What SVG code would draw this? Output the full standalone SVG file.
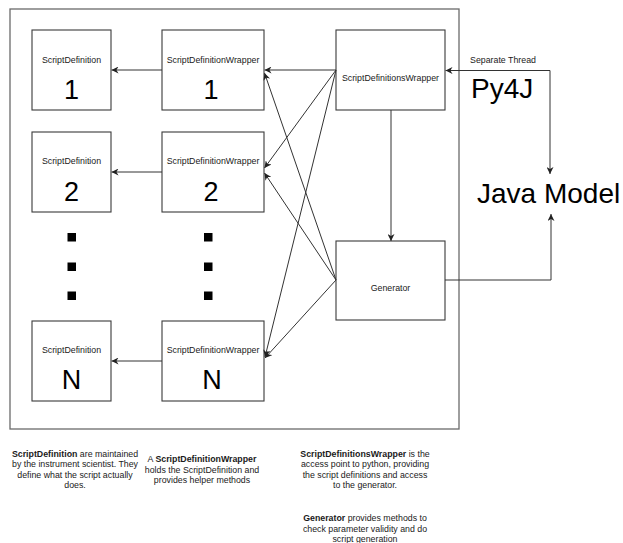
<svg xmlns="http://www.w3.org/2000/svg" width="623" height="543" viewBox="0 0 623 543">
  <style>
    .frame { fill: none; stroke: #6a6a6a; stroke-width: 1.3; }
    .box { fill: #ffffff; stroke: #3a3a3a; stroke-width: 1.1; }
    .lbl { font-family: "Liberation Sans", Arial, sans-serif; font-size: 8.8px; fill: #1a1a1a; text-anchor: middle; }
    .num { font-family: "Liberation Sans", Arial, sans-serif; font-size: 27px; fill: #000; text-anchor: middle; }
    .big { font-family: "Liberation Sans", Arial, sans-serif; font-size: 28px; fill: #000; }
    .note { font-family: "Liberation Sans", Arial, sans-serif; font-size: 8.8px; fill: #1a1a1a; text-anchor: middle; }
    .b { font-weight: bold; }
    .edge { fill: none; stroke: #333; stroke-width: 1; marker-end: url(#arrow); }
    .dot { fill: #000; }
  </style>
  <defs>
    <marker id="arrow" viewBox="0 0 10 10" refX="10" refY="5" markerWidth="7" markerHeight="7" markerUnits="userSpaceOnUse" orient="auto">
      <path d="M0,0 L10,5 L0,10 L3,5 Z" fill="#222"/>
    </marker>
  </defs>
  <rect width="623" height="543" fill="#ffffff"/>

  <!-- outer container -->
  <rect class="frame" x="10" y="9" width="449" height="420"/>

  <!-- column 1: script definitions -->
  <g id="sd1">
    <rect class="box" x="32" y="30" width="79" height="80"/>
    <text class="lbl" x="71.5" y="63">ScriptDefinition</text>
    <text class="num" x="71.5" y="99">1</text>
  </g>
  <g id="sd2">
    <rect class="box" x="32" y="132" width="79" height="80"/>
    <text class="lbl" x="71.5" y="164">ScriptDefinition</text>
    <text class="num" x="71.5" y="201">2</text>
  </g>
  <g id="sdDots">
    <rect class="dot" x="67.5" y="233" width="8.5" height="8.5"/>
    <rect class="dot" x="67.5" y="262.5" width="8.5" height="8.5"/>
    <rect class="dot" x="67.5" y="291.5" width="8.5" height="8.5"/>
  </g>
  <g id="sdN">
    <rect class="box" x="32" y="321" width="79" height="80"/>
    <text class="lbl" x="71.5" y="353">ScriptDefinition</text>
    <text class="num" x="71.5" y="389">N</text>
  </g>

  <!-- column 2: wrappers -->
  <g id="sdw1">
    <rect class="box" x="162" y="30" width="102" height="80"/>
    <text class="lbl" x="213" y="63">ScriptDefinitionWrapper</text>
    <text class="num" x="211" y="99">1</text>
  </g>
  <g id="sdw2">
    <rect class="box" x="162" y="132" width="102" height="80"/>
    <text class="lbl" x="213" y="164">ScriptDefinitionWrapper</text>
    <text class="num" x="211" y="201">2</text>
  </g>
  <g id="sdwDots">
    <rect class="dot" x="204" y="233" width="8.5" height="8.5"/>
    <rect class="dot" x="204" y="262.5" width="8.5" height="8.5"/>
    <rect class="dot" x="204" y="291.5" width="8.5" height="8.5"/>
  </g>
  <g id="sdwN">
    <rect class="box" x="162" y="321" width="102" height="80"/>
    <text class="lbl" x="213" y="353">ScriptDefinitionWrapper</text>
    <text class="num" x="212" y="389">N</text>
  </g>

  <!-- column 3 -->
  <g id="sdsWrapper">
    <rect class="box" x="336" y="30" width="109" height="80"/>
    <text class="lbl" x="390.5" y="81">ScriptDefinitionsWrapper</text>
  </g>
  <g id="generator">
    <rect class="box" x="336" y="241" width="109" height="79"/>
    <text class="lbl" x="390.5" y="291">Generator</text>
  </g>

  <!-- outside the container -->
  <g id="javaModel">
    <text class="big" x="477" y="203">Java Model</text>
  </g>

  <g id="connectors">
    <!-- wrappers to their definitions -->
    <line class="edge" x1="162" y1="70" x2="111.5" y2="70"/>
    <line class="edge" x1="162" y1="172" x2="111.5" y2="172"/>
    <line class="edge" x1="162" y1="361" x2="111.5" y2="361"/>
    <!-- ScriptDefinitionsWrapper to each wrapper -->
    <line class="edge" x1="336" y1="70" x2="264.5" y2="70"/>
    <line class="edge" x1="336" y1="70" x2="264.5" y2="168"/>
    <line class="edge" x1="336" y1="70" x2="265" y2="357"/>
    <!-- Generator to each wrapper -->
    <line class="edge" x1="336" y1="280" x2="264.5" y2="73"/>
    <line class="edge" x1="336" y1="280" x2="264.5" y2="173"/>
    <line class="edge" x1="336" y1="280" x2="265" y2="358"/>
    <!-- ScriptDefinitionsWrapper to Generator -->
    <line class="edge" x1="391" y1="110" x2="391" y2="241"/>
    <!-- Py4J link, both directions -->
    <path class="edge" d="M550,120 L550,70.5 L445.5,70.5"/>
    <path class="edge" d="M550,120 L550,174"/>
    <!-- Generator to Java Model -->
    <path class="edge" d="M445,280 L551,280 L551,214"/>
    <text class="lbl" x="503" y="63">Separate Thread</text>
    <text class="big" x="471" y="98">Py4J</text>
  </g>

  <!-- notes -->
  <g id="notes">
    <text class="note" x="75" y="456.5"><tspan class="b">ScriptDefinition</tspan> are maintained</text>
    <text class="note" x="75" y="467">by the instrument scientist. They</text>
    <text class="note" x="75" y="477.5">define what the script actually</text>
    <text class="note" x="75" y="488">does.</text>

    <text class="note" x="202" y="462">A <tspan class="b">ScriptDefinitionWrapper</tspan></text>
    <text class="note" x="202" y="472.5">holds the ScriptDefinition and</text>
    <text class="note" x="202" y="483">provides helper methods</text>

    <text class="note" x="365" y="456.5"><tspan class="b">ScriptDefinitionsWrapper</tspan> is the</text>
    <text class="note" x="365" y="467">access point to python, providing</text>
    <text class="note" x="365" y="477.5">the script definitions and access</text>
    <text class="note" x="365" y="488">to the generator.</text>

    <text class="note" x="365" y="521"><tspan class="b">Generator</tspan> provides methods to</text>
    <text class="note" x="365" y="531.5">check parameter validity and do</text>
    <text class="note" x="365" y="542">script generation</text>
  </g>
</svg>
